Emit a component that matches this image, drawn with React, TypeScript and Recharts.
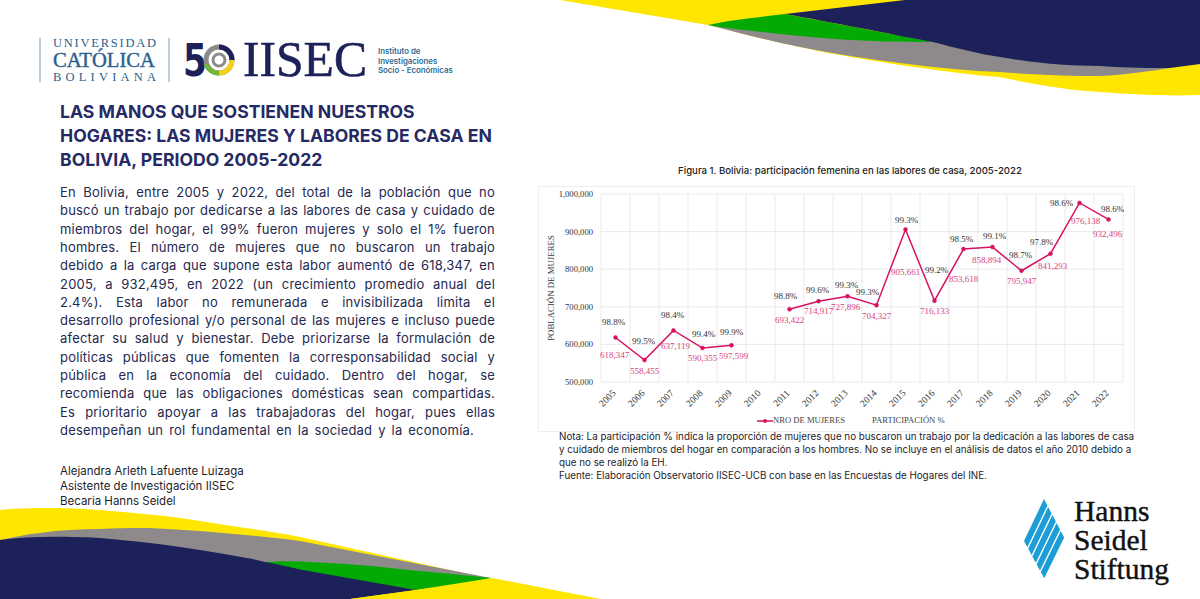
import React from 'react'
import { LineChart, Line, XAxis, YAxis, CartesianGrid, Legend, LabelList } from 'recharts'

const years = ['2005', '2006', '2007', '2008', '2009', '2010', '2011', '2012', '2013', '2014', '2015', '2016', '2017', '2018', '2019', '2020', '2021', '2022']
const women = [618347, 558455, 637119, 590355, 597599, null, 693422, 714917, 727896, 704327, 905661, 716133, 853618, 858894, 795947, 841293, 976138, 932496]
const share = [98.8, 99.5, 98.4, 99.4, 99.9, null, 98.8, 99.6, 99.3, 99.3, 99.3, 99.2, 98.5, 99.1, 98.7, 97.8, 98.6, 98.6]
const yTicks = [500000, 600000, 700000, 800000, 900000, 1000000]

// hand placed label nudges, px from the point, same as the excel original
const womenNudge = [[-1, 17], [0, 10.5], [2, 16], [0, 10], [2, 11], [0, 0], [0, 11], [0, 10], [-2, 11], [0, 11], [0, 42.5], [0, 10.5], [0, 30], [-6, 13], [0, 10.5], [2, 12.5], [6, 18], [-1, 15]]
const shareNudge = [[-2, -16], [-1, -19], [-1, -15], [1, -14], [0, -13], [0, 0], [-4, -13], [-1, -11], [-1, -11], [-9, -13], [1, -9], [2, -31], [-2, -10], [2, -11], [-1, -15.5], [-9, -11.5], [-18, 0], [4, -10]]

const titleLines = [
  'LAS MANOS QUE SOSTIENEN NUESTROS',
  'HOGARES: LAS MUJERES Y LABORES DE CASA EN',
  'BOLIVIA, PERIODO 2005-2022',
]
const bodyLines = [
  'En Bolivia, entre 2005 y 2022, del total de la población que no',
  'buscó un trabajo por dedicarse a las labores de casa y cuidado de',
  'miembros del hogar, el 99% fueron mujeres y solo el 1% fueron',
  'hombres. El número de mujeres que no buscaron un trabajo',
  'debido a la carga que supone esta labor aumentó de 618,347, en',
  '2005, a 932,495, en 2022 (un crecimiento promedio anual del',
  '2.4%). Esta labor no remunerada e invisibilizada limita el',
  'desarrollo profesional y/o personal de las mujeres e incluso puede',
  'afectar su salud y bienestar. Debe priorizarse la formulación de',
  'políticas públicas que fomenten la corresponsabilidad social y',
  'pública en la economía del cuidado. Dentro del hogar, se',
  'recomienda que las obligaciones domésticas sean compartidas.',
  'Es prioritario apoyar a las trabajadoras del hogar, pues ellas',
  'desempeñan un rol fundamental en la sociedad y la economía.',
]
const authorLines = ['Alejandra Arleth Lafuente Luizaga', 'Asistente de Investigación IISEC', 'Becaria Hanns Seidel']
const noteLines = [
  'Nota: La participación % indica la proporción de mujeres que no buscaron un trabajo por la dedicación a las labores de casa',
  'y cuidado de miembros del hogar en comparación a los hombres. No se incluye en el análisis de datos el año 2010 debido a',
  'que no se realizó la EH.',
  'Fuente: Elaboración Observatorio IISEC-UCB con base en las Encuestas de Hogares del INE.',
]

const tableData = years.map((year, i) => ({ year, women: women[i], share: share[i] }))

const NAVY = '#1c2259'
const PINK = '#d81261'
const PINK_TEXT = '#d6457f'
const SERIF = '"Liberation Serif", serif'
const SANS = 'Inter, sans-serif'

function nudgedLabel(nudge: number[][], color: string, format: (v: number) => string) {
  return (props: any) => {
    const { x, y, value, index } = props
    if (value == null || y == null) return null
    const [dx, dy] = nudge[index]
    return (
      <text x={x + dx} y={y + dy} textAnchor="middle" dominantBaseline="central" fontFamily={SERIF} fontSize={9} fill={color}>
        {format(Number(value))}
      </text>
    )
  }
}

function ChartLegend() {
  return (
    <div style={{ position: 'relative', height: 18, fontFamily: SERIF, fontSize: 8.6, color: '#444' }}>
      <svg width={16} height={8} style={{ position: 'absolute', left: 218, top: 4 }}>
        <line x1={0} x2={16} y1={4} y2={4} stroke={PINK} strokeWidth={1.5} />
        <circle cx={8} cy={4} r={2} fill={PINK} />
      </svg>
      <span style={{ position: 'absolute', left: 234, top: 2 }}>NRO DE MUJERES</span>
      <span style={{ position: 'absolute', left: 333, top: 2 }}>PARTICIPACIÓN %</span>
    </div>
  )
}

function Waves() {
  return (
    <svg width={1200} height={599} style={{ position: 'absolute', left: 0, top: 0 }}>
      {/* top right */}
      <path d="M560 0 L708 25 C740 33 770 41 800 47 C840 56 870 60 900 65 C950 72 980 76 1000 77 C1040 86 1070 90 1100 92 C1140 95 1170 96 1200 95 L1200 0 Z" fill="#ffe600" />
      <path d="M708 25 C740 33 770 41 800 47 C840 55 870 59 900 63 C940 68 970 71 1000 72 C1040 75 1070 76 1100 76 C1125 75 1150 71 1170 68 L1000 40 Z" fill="#8e8a8c" />
      <path d="M708 25 C730 20 760 17 785 14 L933 42 C900 42 870 41 850 40 C820 38 800 36 780 34 C755 31 730 29 708 25 Z" fill="#04aa04" />
      <path d="M905 0 L785 14 C830 22 890 34 933 42 C960 49 980 54 1000 57 C1040 64 1070 66 1100 66 C1130 68 1150 68 1170 68 L1200 64 L1200 0 Z" fill={NAVY} />
      {/* bottom left */}
      <path d="M0 510 C20 508 40 508 50 508 C70 508 85 509 100 510 C135 513 170 516 200 521 C235 527 270 531 300 537 L491 579 L600 599 L0 599 Z" fill="#ffe600" />
      <path d="M0 540 C15 537 28 534 40 533 C60 530 80 529 100 529 C115 528 130 528 150 528 C170 529 185 530 200 531 C235 534 270 537 300 541 L491 578 L300 590 L0 580 Z" fill="#8e8a8c" />
      <path d="M265 562 C280 561 290 561 300 561.5 C340 563 375 566 400 569 C430 572 465 575 492 578 C470 583 440 587 416 590 L300 575 Z" fill="#04aa04" />
      <path d="M0 540 C20 537 40 536.5 60 536.7 C75 537 90 537 100 538 C135 541 170 545 200 550 C225 554 250 558 265 562 C280 565 290 567 300 569.5 L416 590 L350 599 L0 599 Z" fill={NAVY} />
      <path d="M416 590 L492 578 L600 599 L350 599 Z" fill="#ffe600" />
    </svg>
  )
}

function Logos() {
  const blue = '#2a5f8e'
  const stripes = [0, 0.21, 0.42, 0.63, 0.84]
  return (
    <svg width={1200} height={599} style={{ position: 'absolute', left: 0, top: 0 }}>
      <line x1={40} x2={40} y1={38} y2={82} stroke="#7d9db5" strokeWidth={1} />
      <line x1={169} x2={169} y1={38} y2={82} stroke="#7d9db5" strokeWidth={1} />
      <text x={53} y={47} fontFamily={SERIF} fontSize={12.5} fill={blue} textLength={103} lengthAdjust="spacing">UNIVERSIDAD</text>
      <text x={53} y={67} fontFamily={SERIF} fontSize={20} fill={blue} stroke={blue} strokeWidth={0.4} textLength={102} lengthAdjust="spacingAndGlyphs">CATÓLICA</text>
      <text x={53} y={81} fontFamily={SERIF} fontSize={12.5} fill={blue} textLength={103} lengthAdjust="spacing">BOLIVIANA</text>

      <text x={183} y={76} fontFamily='"DejaVu Sans", sans-serif' fontSize={44} fontWeight={700} fill={NAVY} textLength={24} lengthAdjust="spacingAndGlyphs">5</text>
      <circle cx={219} cy={60} r={13} fill="none" stroke="#8e8a8c" strokeWidth={5} />
      <path d="M219 47 A13 13 0 0 1 232 60" fill="none" stroke={NAVY} strokeWidth={5} />
      <path d="M232 60 A13 13 0 0 1 219 73" fill="none" stroke="#f2d21b" strokeWidth={5} />
      <path d="M219 73 A13 13 0 0 1 206 64" fill="none" stroke="#74b53a" strokeWidth={5} />
      <circle cx={219} cy={60} r={6} fill="none" stroke="#8e8a8c" strokeWidth={3} />

      <text x={243} y={76} fontFamily={SERIF} fontSize={50} fill={NAVY} stroke={NAVY} strokeWidth={0.6} textLength={124} lengthAdjust="spacingAndGlyphs">IISEC</text>
      <g fontFamily={SANS} fontSize={7.8} fontWeight={600} fill="#2b6a94">
        <text x={378} y={54}>Instituto de</text>
        <text x={378} y={63.5}>Investigaciones</text>
        <text x={378} y={73}>Socio - Económicas</text>
      </g>

      {stripes.map(t => {
        const w = 0.17
        const pts = [
          [1024 + 20 * t, 541 + 37 * t], [1044 + 20 * t, 499 + 38 * t],
          [1044 + 20 * (t + w), 499 + 38 * (t + w)], [1024 + 20 * (t + w), 541 + 37 * (t + w)],
        ]
        return <polygon key={t} points={pts.map(p => p.join(',')).join(' ')} fill="#1c9dd6" />
      })}
      <g fontFamily={SERIF} fontSize={29.5} fill="#111" stroke="#111" strokeWidth={0.4}>
        <text x={1074} y={521}>Hanns</text>
        <text x={1074} y={550}>Seidel</text>
        <text x={1074} y={579}>Stiftung</text>
      </g>
    </svg>
  )
}

export default function App() {
  return (
    <div style={{ position: 'absolute', left: 0, top: 0, width: 1200, height: 599, overflow: 'hidden', background: '#fff', fontFamily: SANS }}>
      <Waves />
      <Logos />

      {titleLines.map((t, i) => (
        <div key={t} style={{ position: 'absolute', left: 60, top: 100 + i * 24, height: 24, lineHeight: '24px', fontSize: 17.6, fontWeight: 700, color: '#252a64', whiteSpace: 'nowrap' }}>{t}</div>
      ))}

      {bodyLines.map((t, i) => (
        <div
          key={t}
          style={{
            position: 'absolute', left: 60, top: 183 + i * 18.3, width: i === bodyLines.length - 1 ? 414 : 435, height: 18, lineHeight: '18px',
            fontSize: 13, letterSpacing: 0.2, color: '#25284f', textAlign: 'justify', textAlignLast: 'justify',
          }}
        >{t}</div>
      ))}

      {authorLines.map((t, i) => (
        <div key={t} style={{ position: 'absolute', left: 60, top: 463 + i * 15, lineHeight: '16px', fontSize: 11.5, color: '#1d1d2b', whiteSpace: 'nowrap' }}>{t}</div>
      ))}

      <div style={{ position: 'absolute', left: 539, width: 622, top: 164, textAlign: 'center', fontSize: 9.6, fontWeight: 500, lineHeight: '14px', color: '#222', whiteSpace: 'nowrap' }}>
        Figura 1. Bolivia: participación femenina en las labores de casa, 2005-2022
      </div>

      <div style={{ position: 'absolute', left: 538, top: 186, border: '1px solid #eeeeee', width: 595, height: 244, background: '#fff' }}>
        <LineChart width={595} height={244} data={tableData} margin={{ top: 7, right: 11, bottom: 0, left: 0 }}>
          <CartesianGrid
            stroke="#e4e4e4"
            strokeWidth={0.8}
            verticalCoordinatesGenerator={({ offset }: any) =>
              Array.from({ length: years.length + 1 }, (_, i) => offset.left + (i * offset.width) / years.length)}
          />
          <XAxis
            dataKey="year"
            padding={{ left: 14.5, right: 14.5 }}
            interval={0}
            height={31}
            angle={-45}
            textAnchor="end"
            tickLine={false}
            axisLine={false}
            tickMargin={0}
            dx={-4}
            dy={1}
            tick={{ fontFamily: SERIF, fontSize: 9.5, fill: '#333' }}
          />
          <YAxis
            width={62}
            domain={[500000, 1000000]}
            ticks={yTicks}
            tickFormatter={(v: number) => v.toLocaleString('en-US')}
            tickLine={false}
            axisLine={false}
            tickMargin={2}
            tick={{ fontFamily: SERIF, fontSize: 8.6, fill: '#333' }}
            label={{ value: 'POBLACIÓN DE MUJERES', angle: -90, position: 'insideLeft', offset: 12, style: { fontFamily: SERIF, fontSize: 8.8, fill: '#333', textAnchor: 'middle' } }}
          />
          <Legend height={18} verticalAlign="bottom" content={<ChartLegend />} />
          <Line dataKey="women" stroke={PINK} strokeWidth={1.5} dot={{ r: 2, fill: PINK, stroke: PINK, strokeWidth: 0.5 }} connectNulls={false} isAnimationActive={false}>
            <LabelList dataKey="women" content={nudgedLabel(womenNudge, PINK_TEXT, v => v.toLocaleString('en-US'))} />
            <LabelList dataKey="share" content={nudgedLabel(shareNudge, '#333', v => `${v.toFixed(1)}%`)} />
          </Line>
        </LineChart>
      </div>

      {noteLines.map((t, i) => (
        <div key={t} style={{ position: 'absolute', left: 559, top: 430 + i * 13, lineHeight: '14px', fontSize: 9.8, color: '#1d1d2b', whiteSpace: 'nowrap' }}>{t}</div>
      ))}
    </div>
  )
}
